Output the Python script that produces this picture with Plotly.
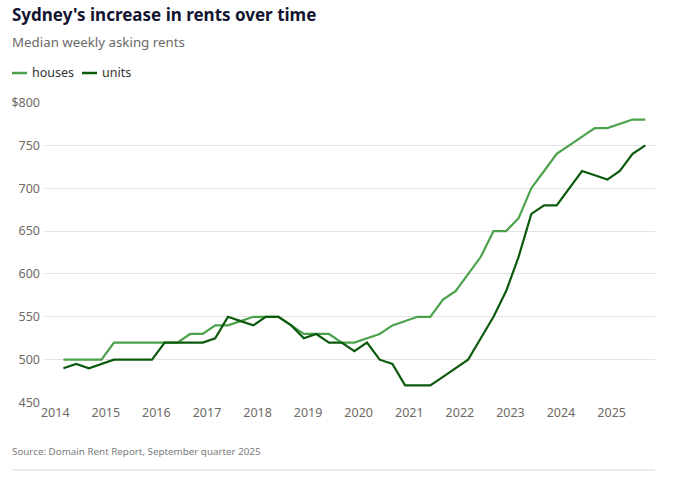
import plotly.graph_objects as go
import pandas as pd

W, H = 682, 484
L, R, T, B = 45, 27, 102, 81

quarters = pd.date_range("2014-03-01", "2025-09-01", freq="3MS")
houses = [500, 500, 500, 500, 520, 520, 520, 520, 520, 520, 530, 530,
          540, 540, 545, 550, 550, 550, 540, 530, 530, 530, 520, 520,
          525, 530, 540, 545, 550, 550, 570, 580, 600, 620, 650, 650,
          665, 700, 720, 740, 750, 760, 770, 770, 775, 780, 780]
units = [490, 495, 490, 495, 500, 500, 500, 500, 520, 520, 520, 520,
         525, 550, 545, 540, 550, 550, 540, 525, 530, 520, 520, 510,
         520, 500, 495, 470, 470, 470, 480, 490, 500, 525, 550, 580,
         620, 670, 680, 680, 700, 720, 715, 710, 720, 740, 750]
series_names = ["houses", "units"]
series_colors = ["#4ba24b", "#0c5a0c"]
y_ticks = [450, 500, 550, 600, 650, 700, 750, 800]
y_labels = ["450", "500", "550", "600", "650", "700", "750", "$800"]
x_ticks = [str(y) for y in range(2014, 2026)]

font = "Noto Sans"
fig = go.Figure()
for name, vals, col in zip(series_names, [houses, units], series_colors):
    fig.add_trace(go.Scatter(x=quarters, y=vals, name=name, mode="lines",
                             line=dict(color=col, width=2.2), showlegend=False))

def px_x(px):
    return (px - L) / (W - L - R)

def px_y(py):
    return (H - B - py) / (H - T - B)

shapes = []
annotations = []
# custom legend
leg = [(12, 27, 30), (82, 97, 100)]
for (x0, x1, tx), name, col in zip(leg, series_names, series_colors):
    shapes.append(dict(type="line", xref="paper", yref="paper",
                       x0=px_x(x0), x1=px_x(x1), y0=px_y(73), y1=px_y(73),
                       line=dict(color=col, width=2.5)))
    annotations.append(dict(text=name, xref="paper", yref="paper",
                            x=px_x(tx), y=px_y(73), xanchor="left", yanchor="middle",
                            showarrow=False, font=dict(family=font, size=12.5, color="#333333")))
# bottom rule
shapes.append(dict(type="line", xref="paper", yref="paper",
                   x0=px_x(12), x1=px_x(655), y0=px_y(470), y1=px_y(470),
                   line=dict(color="#d6d9e0", width=1)))
annotations.append(dict(text="Source: Domain Rent Report, September quarter 2025",
                        xref="paper", yref="paper", x=px_x(10), y=px_y(451),
                        xanchor="left", yanchor="middle", showarrow=False,
                        font=dict(family=font, size=9.8, color="#7a7a7a")))
annotations.append(dict(text="Median weekly asking rents",
                        xref="paper", yref="paper", x=px_x(9.5), y=px_y(42),
                        xanchor="left", yanchor="middle", showarrow=False,
                        font=dict(family=font, size=13.3, color="#6a6a6a")))

fig.update_layout(
    width=W, height=H,
    margin=dict(l=L, r=R, t=T, b=B),
    paper_bgcolor="white", plot_bgcolor="white",
    title=dict(text="<b>Sydney's increase in rents over time</b>",
               x=12 / W, xref="container", xanchor="left",
               y=1 - 15 / H, yref="container", yanchor="middle",
               font=dict(family=font, size=17, color="#131530")),
    shapes=shapes, annotations=annotations,
    xaxis=dict(type="date", range=["2013-10-19", "2025-11-10"],
               tickvals=[f"{y}-01-01" for y in x_ticks], ticktext=x_ticks,
               showgrid=False, zeroline=False, showline=False, ticks="",
               tickfont=dict(family=font, size=12.5, color="#6f6a64")),
    yaxis=dict(range=[449.5, 800.5], tickvals=y_ticks, ticktext=y_labels,
               showgrid=True, gridcolor="#e3e3e3", gridwidth=1, zeroline=False,
               showline=False, ticks="", ticklabelstandoff=4,
               tickfont=dict(family=font, size=12.5, color="#6f6a64")),
    showlegend=False,
)
fig.write_html("out.html", config={"displayModeBar": False},
               post_script="document.body.style.margin='0';document.body.style.padding='0';")
